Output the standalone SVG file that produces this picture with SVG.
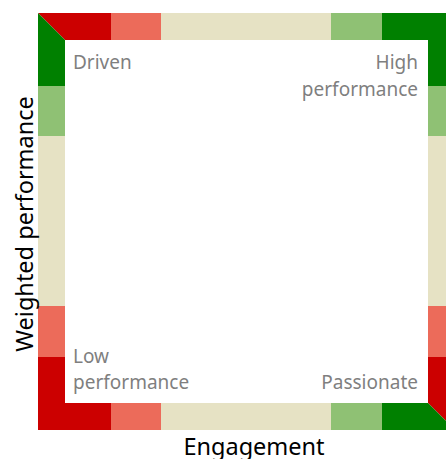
<svg xmlns="http://www.w3.org/2000/svg" width="446" height="459" viewBox="0 0 446 459">
<style>
.r{fill:#cc0000}.s{fill:#ec6b5a}.b{fill:#e6e2c4}.lg{fill:#8fc174}.dg{fill:#008000}
.q{font-family:"Noto Sans","Open Sans",sans-serif;font-size:19px;fill:#7f7f7f}
.ax{font-family:"Noto Sans","Open Sans",sans-serif;font-size:23.5px;fill:#000}
</style>
<rect width="446" height="459" fill="#fff"/>
<g id="frame">
<polygon class="r" points="38,13 111,13 111,40 65,40"/>
<rect class="s" x="111" y="13" width="50" height="27"/>
<rect class="b" x="161" y="13" width="170" height="27"/>
<rect class="lg" x="331" y="13" width="51" height="27"/>
<rect class="dg" x="382" y="13" width="73" height="27"/>
<polygon class="dg" points="38,13 65,40 65,86 38,86"/>
<rect class="lg" x="38" y="86" width="27" height="50"/>
<rect class="b" x="38" y="136" width="27" height="170"/>
<rect class="s" x="38" y="306" width="27" height="51"/>
<rect class="r" x="38" y="357" width="27" height="73"/>
<rect class="dg" x="428" y="13" width="27" height="73"/>
<rect class="lg" x="428" y="86" width="27" height="50"/>
<rect class="b" x="428" y="136" width="27" height="170"/>
<rect class="s" x="428" y="306" width="27" height="51"/>
<polygon class="r" points="428,357 455,357 455,430 428,403"/>
<rect class="r" x="38" y="403" width="73" height="27"/>
<rect class="s" x="111" y="403" width="50" height="27"/>
<rect class="b" x="161" y="403" width="170" height="27"/>
<rect class="lg" x="331" y="403" width="51" height="27"/>
<polygon class="dg" points="382,403 428,403 455,430 382,430"/>
</g>
<g id="driven"><text class="q" x="73" y="69">Driven</text></g>
<g id="high-performance"><text class="q" x="418" y="69" text-anchor="end">High</text><text class="q" x="418" y="96" text-anchor="end">performance</text></g>
<g id="low-performance"><text class="q" x="73" y="363">Low</text><text class="q" x="73" y="389">performance</text></g>
<g id="passionate"><text class="q" x="418" y="389" text-anchor="end">Passionate</text></g>
<g id="axes">
<text class="ax" x="254" y="455" text-anchor="middle">Engagement</text>
<text class="ax" transform="translate(32.5,224) rotate(-90)" x="0" y="0" text-anchor="middle">Weighted performance</text>
</g>
</svg>
